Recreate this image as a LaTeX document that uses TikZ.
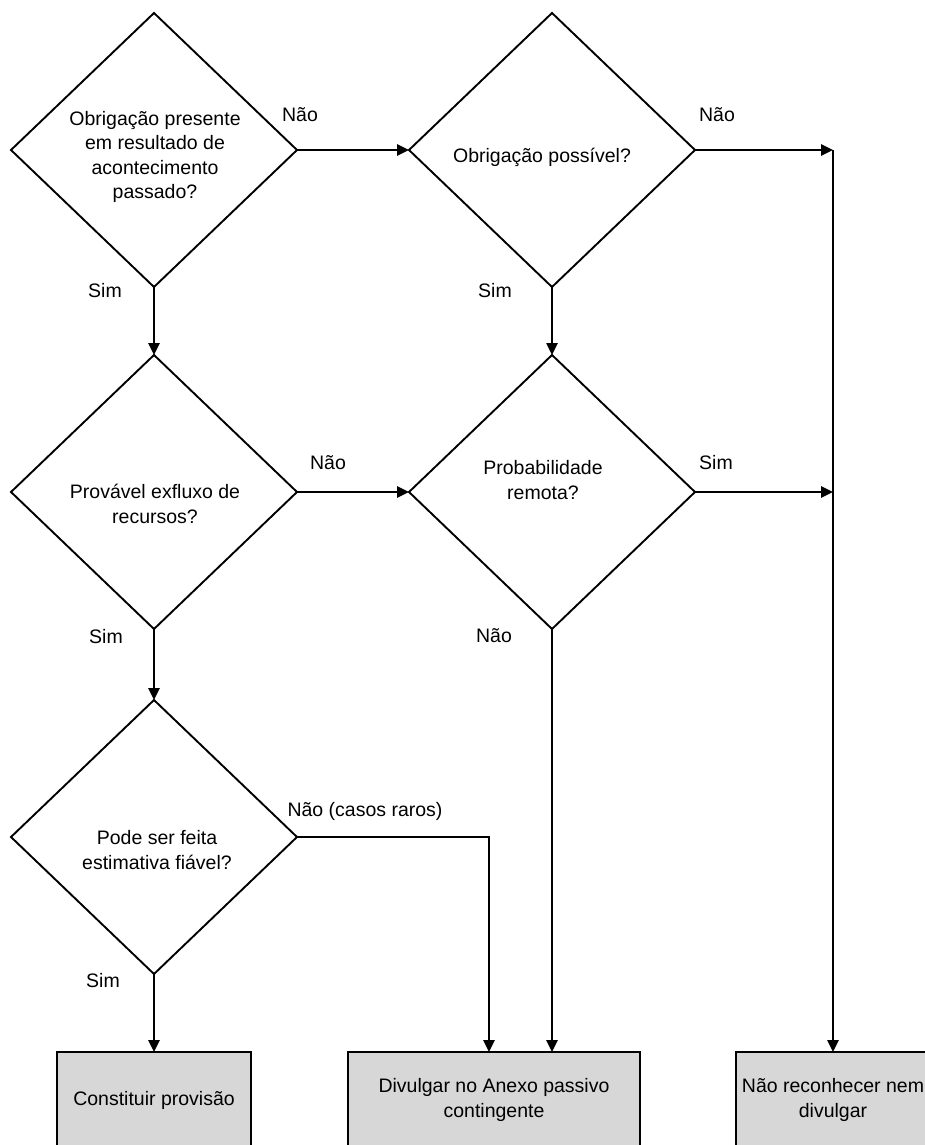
\documentclass[tikz,border=0pt]{standalone}
\usepackage{fontspec}
\setmainfont{Liberation Sans}
\usetikzlibrary{shapes.geometric,arrows.meta}
\definecolor{boxgray}{RGB}{215,215,215}
\newcommand{\diagfont}{\fontsize{19.5}{24.5}\selectfont}
\begin{document}
\begin{tikzpicture}[x=1pt,y=-1pt,
  decision/.style={draw, shape=diamond, line width=1.9pt, inner sep=0pt,
    outer sep=0pt, minimum width=286pt, minimum height=274pt},
  qtext/.style={font=\diagfont, align=center, inner sep=0pt},
  answer/.style={font=\diagfont, inner sep=0pt, text height=13.8pt, text depth=0pt},
  outcome/.style={draw, fill=boxgray, line width=2.6pt, outer sep=0pt,
    minimum width=194pt, minimum height=96pt, font=\diagfont, align=center},
  flow/.style={line width=2.5pt, -{Triangle[length=12pt,width=11pt]}},
]
\useasboundingbox (0,0) rectangle (925,1145);
\clip (0,0) rectangle (925,1145);

% decision diamonds
\node[decision] (d1) at (154,150) {};
\node[decision] (d2) at (552,150) {};
\node[decision] (d3) at (154,492) {};
\node[decision] (d4) at (552,492) {};
\node[decision] (d5) at (154,837) {};

% questions
\node[qtext] (q1) at (155,157) {Obrigação presente\\em resultado de\\acontecimento\\passado?};
\node[qtext] (q2) at (542,157) {Obrigação possível?};
\node[qtext] (q3) at (155,504) {Provável exfluxo de\\recursos?};
\node[qtext] (q4) at (543,480) {Probabilidade\\remota?};
\node[qtext] (q5) at (157,850) {Pode ser feita\\estimativa fiável?};

% outcomes
\node[outcome] (b1) at (154,1100) {Constituir provisão};
\node[outcome, minimum width=292pt] (b2) at (494,1100) {Divulgar no Anexo passivo\\contingente};
\node[outcome] (b3) at (833,1100) {Não reconhecer nem\\divulgar};

% right-hand collector line and bend points
\coordinate (r1) at (833,150);
\coordinate (r2) at (833,492);
\coordinate (k5) at (489,837);

% connectors
\draw[flow] (d1.south) -- (d3.north);
\draw[flow] (d3.south) -- (d5.north);
\draw[flow] (d5.south) -- (b1.north);
\draw[flow] (d2.south) -- (d4.north);
\draw[flow] (d1.east) -- (d2.west);
\draw[flow] (d3.east) -- (d4.west);
\draw[flow] (d2.east) -- (r1);
\draw[flow] (d4.east) -- (r2);
\draw[flow] (r1) -- (b3.north);
\draw[flow] (d4.south) -- (d4.south |- b2.north);
\draw[flow] (d5.east) -- (k5) -- (k5 |- b2.north);

% answers
\node[answer] (a1) at (300,115) {Não};
\node[answer] (a2) at (717,115) {Não};
\node[answer] (a3) at (105,291) {Sim};
\node[answer] (a4) at (495,291) {Sim};
\node[answer] (a5) at (328,463) {Não};
\node[answer] (a6) at (716,463) {Sim};
\node[answer] (a7) at (106,637) {Sim};
\node[answer] (a8) at (494,636) {Não};
\node[answer] (a9) at (365,810) {Não (casos raros)};
\node[answer] (a10) at (103,981) {Sim};
\end{tikzpicture}
\end{document}
